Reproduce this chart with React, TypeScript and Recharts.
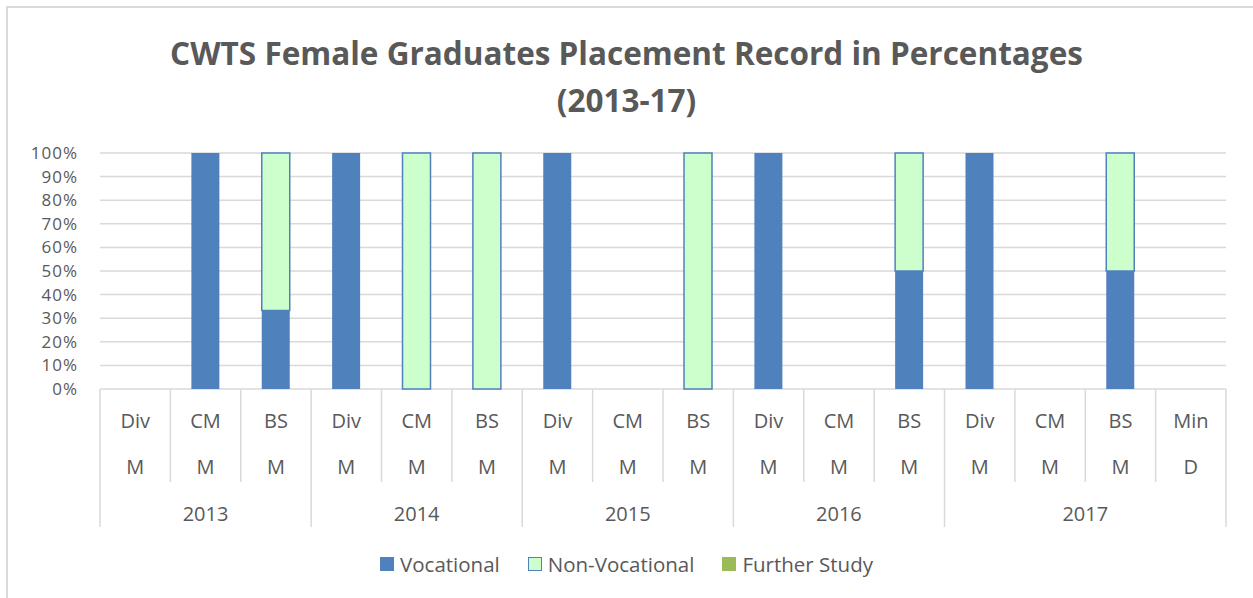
import { BarChart, Bar, XAxis, YAxis, CartesianGrid } from 'recharts'

const catTop = ['Div', 'CM', 'BS', 'Div', 'CM', 'BS', 'Div', 'CM', 'BS', 'Div', 'CM', 'BS', 'Div', 'CM', 'BS', 'Min']
const catBottom = ['M', 'M', 'M', 'M', 'M', 'M', 'M', 'M', 'M', 'M', 'M', 'M', 'M', 'M', 'M', 'D']
const years = ['2013', '2014', '2015', '2016', '2017']
const yearSpan = [3, 3, 3, 3, 4]

const vocational = [0, 100, 33.3, 100, 0, 0, 100, 0, 0, 100, 0, 50, 100, 0, 50, 0]
const nonVocational = [0, 0, 66.7, 0, 100, 100, 0, 0, 100, 0, 0, 50, 0, 0, 50, 0]
const furtherStudy = [0, 0, 0, 0, 0, 0, 0, 0, 0, 0, 0, 0, 0, 0, 0, 0]

const yTicks = [0, 10, 20, 30, 40, 50, 60, 70, 80, 90, 100]

const W = 1253
const H = 598
const PLOT_TOP = 153
const PLOT_BOTTOM = 389
const PLOT_LEFT = 100
const PLOT_RIGHT = 1226
const TEXT = '#595959'
const LINE = '#d9d9d9'
const FONT = '"Open Sans", sans-serif'
const LABEL_SIZE = 20

const data = catTop.map((c, i) => ({
  idx: i,
  vocational: vocational[i],
  nonVocational: nonVocational[i],
  furtherStudy: furtherStudy[i],
}))

// index of first category of each year group
const groupStart: number[] = []
yearSpan.reduce((acc, n) => {
  groupStart.push(acc)
  return acc + n
}, 0)

const bandWidth = (PLOT_RIGHT - PLOT_LEFT) / catTop.length

function CategoryTick(props: any) {
  const { x, index } = props
  const left = x - bandWidth / 2
  const g = groupStart.indexOf(index)
  const isLast = index === catTop.length - 1
  return (
    <g>
      <line x1={left} x2={left} y1={PLOT_BOTTOM} y2={g >= 0 ? 527 : 482} stroke={LINE} strokeWidth={1.5} />
      {isLast && (
        <line x1={left + bandWidth} x2={left + bandWidth} y1={PLOT_BOTTOM} y2={527} stroke={LINE} strokeWidth={1.5} />
      )}
      <text x={x} y={420} textAnchor="middle" dominantBaseline="central" fill={TEXT} fontSize={LABEL_SIZE} fontFamily={FONT}>
        {catTop[index]}
      </text>
      <text x={x} y={466} textAnchor="middle" dominantBaseline="central" fill={TEXT} fontSize={LABEL_SIZE} fontFamily={FONT}>
        {catBottom[index]}
      </text>
      {g >= 0 && (
        <text
          x={left + (yearSpan[g] * bandWidth) / 2}
          y={513}
          textAnchor="middle"
          dominantBaseline="central"
          fill={TEXT}
          fontSize={LABEL_SIZE}
          fontFamily={FONT}
        >
          {years[g]}
        </text>
      )}
    </g>
  )
}

const legendItems = [
  { label: 'Vocational', fill: '#4F81BD', stroke: '#4F81BD' },
  { label: 'Non-Vocational', fill: '#CCFFCC', stroke: '#4F81BD' },
  { label: 'Further Study', fill: '#9BBB59', stroke: '#9BBB59' },
]

export default function App() {
  return (
    <div style={{ position: 'absolute', left: 0, top: 0, width: W, height: H, overflow: 'hidden', background: '#fff', fontFamily: FONT }}>
      <div style={{ position: 'absolute', left: 6, top: 6, width: 1400, height: 800, border: `2px solid ${LINE}` }} />
      <div
        style={{
          position: 'absolute',
          left: 0,
          width: W,
          top: 29,
          textAlign: 'center',
          color: TEXT,
          fontWeight: 700,
          fontSize: 31.5,
          lineHeight: '47px',
        }}
      >
        CWTS Female Graduates Placement Record in Percentages
        <br />
        (2013-17)
      </div>
      <div style={{ position: 'absolute', top: 0, left: 0 }}>
        <BarChart width={W} height={H} data={data} margin={{ top: PLOT_TOP, right: W - PLOT_RIGHT, bottom: 0, left: 0 }}>
          <CartesianGrid vertical={false} stroke={LINE} strokeWidth={1.5} />
          <YAxis
            width={PLOT_LEFT}
            domain={[0, 100]}
            ticks={yTicks}
            tickFormatter={(v: number) => `${v}%`}
            axisLine={false}
            tickLine={false}
            tickMargin={16}
            interval={0}
            tick={{ fill: TEXT, fontSize: 17, fontFamily: FONT, letterSpacing: 1 }}
          />
          <XAxis
            dataKey="idx"
            height={H - PLOT_BOTTOM}
            axisLine={false}
            tickLine={false}
            interval={0}
            tick={<CategoryTick />}
          />
          <Bar dataKey="vocational" stackId="a" fill="#4F81BD" barSize={28} isAnimationActive={false} />
          <Bar
            dataKey="nonVocational"
            stackId="a"
            fill="#CCFFCC"
            stroke="#4F81BD"
            strokeWidth={1.5}
            barSize={28}
            isAnimationActive={false}
          />
          <Bar dataKey="furtherStudy" stackId="a" fill="#9BBB59" barSize={28} isAnimationActive={false} />
        </BarChart>
      </div>
      <div
        style={{
          position: 'absolute',
          left: 0,
          width: W,
          top: 550,
          display: 'flex',
          justifyContent: 'center',
          gap: 28,
          color: TEXT,
          fontSize: 20.5,
        }}
      >
        {legendItems.map((it) => (
          <div key={it.label} style={{ display: 'flex', alignItems: 'center', gap: 6 }}>
            <span
              style={{
                display: 'inline-block',
                width: 12,
                height: 12,
                background: it.fill,
                border: `1.5px solid ${it.stroke}`,
              }}
            />
            <span>{it.label}</span>
          </div>
        ))}
      </div>
    </div>
  )
}
